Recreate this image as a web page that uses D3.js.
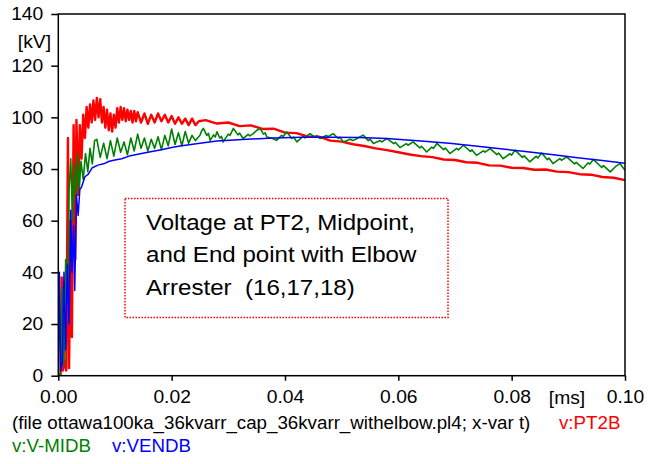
<!DOCTYPE html>
<html>
<head>
<meta charset="utf-8">
<script src="https://cdn.jsdelivr.net/npm/d3@7"></script>
<style>
  body { margin: 0; background: #fff; }
  svg { display: block; font-family: "Liberation Sans", Arial, sans-serif; }
</style>
</head>
<body>
<div id="chart"></div>
<script>
// time in ms, voltage in kV
const timePT2B = [0, 0.0004, 0.0006, 0.0008, 0.0012, 0.0014, 0.0017, 0.0019, 0.0022, 0.0024,
  0.0027, 0.0030, 0.0032, 0.0035, 0.0038, 0.0041, 0.0044, 0.0047, 0.0050, 0.0053,
  0.0056, 0.0059, 0.0062, 0.0065, 0.0068, 0.0071, 0.0074, 0.0077, 0.0080, 0.0083,
  0.0086, 0.0089, 0.0092, 0.0095, 0.0098, 0.0101, 0.0104, 0.0107, 0.0110, 0.0113,
  0.0116, 0.0119, 0.0122, 0.0125, 0.0128, 0.0131, 0.0134, 0.0137, 0.0140, 0.0146,
  0.0152, 0.0158, 0.0164, 0.0170, 0.0176, 0.0182, 0.0188, 0.0194, 0.0200, 0.0206,
  0.0212, 0.0218, 0.0224, 0.0230, 0.0236, 0.0242, 0.0248, 0.026, 0.028, 0.030,
  0.032, 0.034, 0.036, 0.038, 0.040, 0.042, 0.044, 0.046, 0.048, 0.050,
  0.052, 0.054, 0.056, 0.058, 0.060, 0.062, 0.064, 0.066, 0.068, 0.070,
  0.072, 0.074, 0.076, 0.078, 0.080, 0.082, 0.084, 0.086, 0.088, 0.090,
  0.092, 0.094, 0.096, 0.098, 0.100];
const valuesPT2B = [0, 0, 38, 2, 6, 2, 92, 3, 60, 15,
  97, 45, 99, 70, 97, 84, 101, 92, 104, 96,
  105, 98, 106.5, 99, 107.5, 100, 107, 98, 104, 96,
  103, 95, 101.5, 94.5, 101, 96, 103.5, 98, 104, 99,
  103.5, 98.5, 103, 99, 102.5, 98, 102.5, 98.5, 102, 98,
  101.5, 97.5, 101, 98, 101.5, 98.5, 101, 98, 100.5, 97.5,
  100, 97.5, 99.5, 97, 99.5, 97, 98.5, 98.9, 97.6, 98.0,
  96.6, 96.9, 95.5, 95.6, 94.1, 93.9, 92.6, 92.5, 91.0, 90.6,
  89.6, 88.9, 88.0, 87.3, 86.5, 85.6, 85.0, 84.6, 83.7, 83.5,
  82.6, 82.4, 81.4, 81.3, 80.5, 80.4, 79.7, 79.8, 79.0, 78.8,
  78.0, 77.8, 76.9, 76.6, 75.7];

const timeMIDB = [0, 0.0004, 0.0007, 0.0010, 0.0013, 0.0016, 0.0019, 0.0022, 0.0025, 0.0028,
  0.0031, 0.0034, 0.0037, 0.0040, 0.0044, 0.0048, 0.0052, 0.0056, 0.0060, 0.0064,
  0.0068, 0.0074, 0.0080, 0.0086, 0.0092, 0.0098, 0.0104, 0.0110, 0.0116, 0.0122,
  0.0128, 0.0134, 0.0140, 0.0146, 0.0152, 0.0158, 0.0164, 0.0170, 0.0176, 0.0182,
  0.0188, 0.0194, 0.0200, 0.0206, 0.0212, 0.0218, 0.0224, 0.0230, 0.0236, 0.0242,
  0.0250, 0.0253, 0.0256, 0.0262, 0.0265, 0.0268, 0.0274, 0.0277, 0.0280, 0.0285,
  0.0288, 0.0291, 0.0300, 0.0303, 0.0309, 0.0317, 0.0320, 0.0326, 0.0335, 0.0338,
  0.0344, 0.0350, 0.0356, 0.0362, 0.0365, 0.0368, 0.0376, 0.0385, 0.0394, 0.0397,
  0.0403, 0.0412, 0.0415, 0.0421, 0.0432, 0.0435, 0.0444, 0.0453, 0.0456, 0.0462,
  0.0473, 0.0476, 0.0485, 0.0494, 0.0497, 0.0503, 0.0515, 0.0520, 0.0527, 0.0538,
  0.0547, 0.0550, 0.0556, 0.0568, 0.0571, 0.0580, 0.0592, 0.0595, 0.0603, 0.0614,
  0.0617, 0.0626, 0.0638, 0.0641, 0.0650, 0.0659, 0.0662, 0.0668, 0.0680, 0.0683,
  0.0691, 0.0703, 0.0706, 0.0715, 0.0727, 0.0730, 0.0738, 0.0750, 0.0753, 0.0762,
  0.0774, 0.0777, 0.0785, 0.0797, 0.0800, 0.0806, 0.0819, 0.0822, 0.0832, 0.0843,
  0.0846, 0.0853, 0.0863, 0.0866, 0.0873, 0.0885, 0.0888, 0.0897, 0.0911, 0.0914,
  0.0926, 0.0935, 0.0938, 0.0944, 0.0959, 0.0962, 0.0974, 0.0983, 0.0991, 0.1000];
const valuesMIDB = [0, 1, 34, 4, 45, 28, 72, 84, 60, 82,
  68, 86, 72, 83, 76, 86, 79, 88, 82, 91,
  91.5, 84.5, 90, 84, 91, 85, 92, 86.5, 90.5, 85.5,
  92, 87, 93.5, 88, 92, 87, 91.5, 88, 92.5, 87.5,
  93, 89, 95.5, 89.5, 94, 89, 94.5, 90, 93, 91,
  93.1, 94.8, 95.7, 93.0, 93.8, 91.1, 93.2, 92.4, 94.4, 92.0,
  92.6, 90.5, 93.5, 93.0, 95.7, 93.2, 93.9, 91.8, 93.4, 92.8,
  93.7, 94.9, 95.7, 93.5, 94.0, 92.4, 92.0, 91.1, 93.0, 92.6,
  94.4, 91.8, 92.4, 90.5, 92.6, 92.0, 93.7, 92.3, 92.9, 91.8,
  93.0, 92.5, 93.7, 91.8, 92.3, 90.5, 91.5, 91.0, 91.8, 93.1,
  91.0, 91.6, 89.9, 91.0, 90.5, 91.8, 89.8, 90.3, 88.3, 89.8,
  89.2, 90.5, 88.2, 88.8, 86.6, 88.5, 88.0, 89.9, 87.5, 88.1,
  86.0, 88.0, 87.4, 89.2, 86.8, 87.4, 85.3, 87.0, 86.5, 87.9,
  85.6, 86.2, 84.0, 85.9, 85.4, 87.3, 84.5, 85.1, 82.8, 84.9,
  84.3, 86.2, 83.6, 84.2, 82.1, 84.0, 83.4, 84.7, 82.0, 82.6,
  80.2, 82.4, 81.9, 83.7, 80.6, 81.3, 78.9, 80.9, 82.1, 79.5];

const timeVENDB = [0, 0.0002, 0.0004, 0.0007, 0.0010, 0.0013, 0.0016, 0.0019, 0.0022, 0.0024,
  0.0027, 0.0029, 0.0032, 0.0035, 0.0038, 0.0041, 0.0047, 0.0053, 0.0060, 0.0070,
  0.0080, 0.0090, 0.0100, 0.0112, 0.0125, 0.0147, 0.0165, 0.0182, 0.0200, 0.0215,
  0.0250, 0.0280, 0.0310, 0.0340, 0.0380, 0.0430, 0.0480, 0.0530, 0.0580, 0.0603,
  0.0640, 0.0690, 0.0740, 0.0780, 0.0820, 0.0870, 0.0920, 0.0960, 0.1000];
const valuesVENDB = [0, 40, 2, 5, 40, 10, 43, 20, 64, 40,
  58, 33, 70, 62, 72, 73, 77, 78, 80.5, 81.5,
  82, 83, 83.5, 84, 85, 86, 86.8, 87.5, 88.3, 88.9,
  90, 90.8, 91.2, 91.6, 92.0, 92.3, 92.3, 92.2, 91.8, 91.4,
  90.8, 90.0, 88.8, 87.8, 86.9, 85.6, 84.3, 83.3, 82.2];

const xTicks = [0, 0.02, 0.04, 0.06, 0.08, 0.10];
const yTicks = [0, 20, 40, 60, 80, 100, 120, 140];
const noteLines = ["Voltage at PT2, Midpoint,", "and End point with Elbow", "Arrester  (16,17,18)"];
const fileLabel = "(file ottawa100ka_36kvarr_cap_36kvarr_withelbow.pl4; x-var t)";
const seriesNames = ["v:PT2B", "v:V-MIDB", "v:VENDB"];

const fullWidth = 656;
const fullHeight = 464;
const plot = { left: 58.3, top: 14, right: 625, bottom: 375.7 };

const svg = d3.select("#chart")
  .append("svg")
  .attr("width", fullWidth)
  .attr("height", fullHeight);

svg.append("rect")
  .attr("width", fullWidth)
  .attr("height", fullHeight)
  .attr("fill", "#fff");

const x = d3.scaleLinear().domain([0, 0.1]).range([plot.left, plot.right]);
const y = d3.scaleLinear().domain([0, 140]).range([plot.bottom, plot.top]);

svg.append("clipPath")
  .attr("id", "plot-clip")
  .append("rect")
  .attr("x", plot.left)
  .attr("y", plot.top)
  .attr("width", plot.right - plot.left)
  .attr("height", plot.bottom - plot.top);

// === Curves ===
const series = [
  { t: timePT2B, v: valuesPT2B, color: "#ff0000", width: 2.4 },
  { t: timeMIDB, v: valuesMIDB, color: "#008000", width: 1.6 },
  { t: timeVENDB, v: valuesVENDB, color: "#0000ff", width: 1.5 }
];

const line = d3.line()
  .x((d) => x(d[0]))
  .y((d) => y(d[1]));

svg.append("g")
  .attr("clip-path", "url(#plot-clip)")
  .selectAll("path")
  .data(series)
  .enter()
  .append("path")
  .attr("d", (s) => line(d3.zip(s.t, s.v)))
  .attr("fill", "none")
  .attr("stroke", (s) => s.color)
  .attr("stroke-width", (s) => s.width)
  .attr("stroke-linejoin", "round");

// === Frame ===
svg.append("rect")
  .attr("x", plot.left)
  .attr("y", plot.top)
  .attr("width", plot.right - plot.left)
  .attr("height", plot.bottom - plot.top)
  .attr("fill", "none")
  .attr("stroke", "#000")
  .attr("stroke-width", 1.5);

// === Axes ===
const xAxis = svg.append("g")
  .attr("transform", `translate(0, ${plot.bottom})`)
  .call(d3.axisBottom(x).tickValues(xTicks).tickFormat(d3.format(".2f")).tickSize(5).tickPadding(10));

const yAxis = svg.append("g")
  .attr("transform", `translate(${plot.left}, 0)`)
  .call(d3.axisLeft(y).tickValues(yTicks).tickSize(7).tickPadding(8));

[xAxis, yAxis].forEach((g) => {
  g.select(".domain").remove();
  g.selectAll("line").attr("stroke", "#000").attr("stroke-width", 1.5);
  g.selectAll("text")
    .attr("fill", "#000")
    .style("font-family", "'Liberation Sans', Arial, sans-serif")
    .style("font-size", "18px");
});

svg.append("text")
  .attr("x", 51)
  .attr("y", 48)
  .attr("text-anchor", "end")
  .style("font-size", "18px")
  .text("[kV]");

svg.append("text")
  .attr("x", 567)
  .attr("y", 404)
  .attr("text-anchor", "middle")
  .style("font-size", "18px")
  .text("[ms]");

// === Note box ===
svg.append("rect")
  .attr("x", 125)
  .attr("y", 198.5)
  .attr("width", 323)
  .attr("height", 119)
  .attr("fill", "none")
  .attr("stroke", "#ff0000")
  .attr("stroke-width", 1.5)
  .attr("stroke-dasharray", "1.5 1.5");

svg.append("g")
  .selectAll("text")
  .data(noteLines)
  .enter()
  .append("text")
  .attr("x", 146)
  .attr("y", (d, i) => 230 + i * 32.3)
  .style("font-size", "22.5px")
  .style("white-space", "pre")
  .attr("fill", "#000")
  .text((d) => d);

// === Legend ===
svg.append("text")
  .attr("x", 12)
  .attr("y", 429)
  .style("font-size", "17.5px")
  .attr("fill", "#000")
  .text(fileLabel);

const legendPos = [[559, 429], [12, 452], [112, 452]];
svg.append("g")
  .selectAll("text")
  .data(seriesNames)
  .enter()
  .append("text")
  .attr("x", (d, i) => legendPos[i][0])
  .attr("y", (d, i) => legendPos[i][1])
  .style("font-size", "17.5px")
  .attr("fill", (d, i) => series[i].color)
  .text((d) => d);

// the reference glyphs are a bit wider than Arial, stretch every label slightly
svg.selectAll("text").each(function () {
  const w = this.getComputedTextLength();
  d3.select(this)
    .attr("textLength", w * 1.07)
    .attr("lengthAdjust", "spacingAndGlyphs");
});
</script>
</body>
</html>
